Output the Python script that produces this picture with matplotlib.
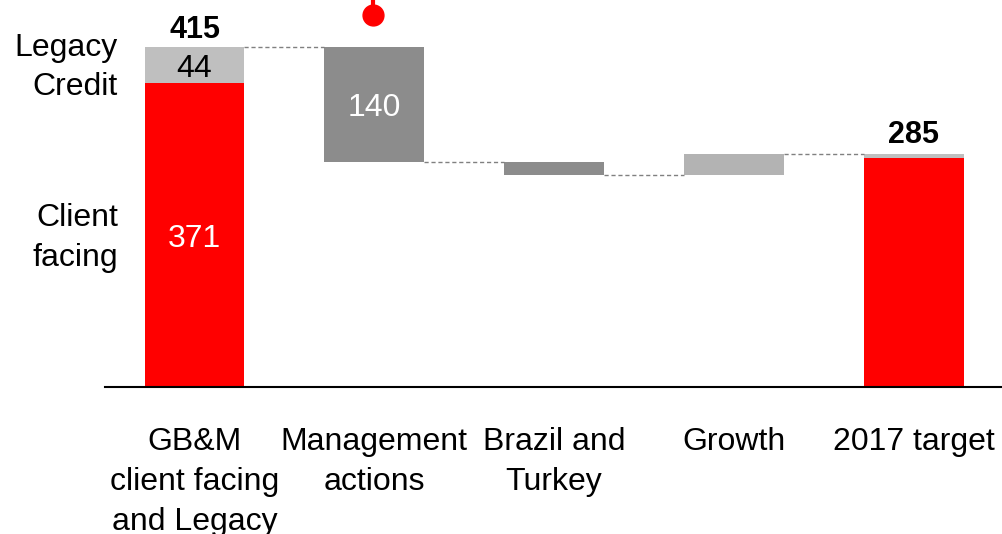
import matplotlib.pyplot as plt

plt.rcParams['font.family'] = ['Liberation Sans', 'DejaVu Sans']

# ---- data ----
categories = ["GB&M\nclient facing\nand Legacy", "Management\nactions", "Brazil and\nTurkey",
              "Growth", "2017 target"]
start_client = 371
start_legacy = 44
steps = [-140, -16, 26]            # management actions, Brazil and Turkey, growth
target_client = 280
target_legacy = 5
target_total = 285

RED = "#FF0000"
LEGACY_GREY = "#BFBFBF"
DARK_GREY = "#8C8C8C"
LIGHT_GREY = "#B3B3B3"
W = 0.556
FS = 23
LS = 1.43

fig = plt.figure(figsize=(10.02, 5.34), dpi=100)
ax = fig.add_axes([0, 0, 1, 1])
ax.set_xlim(-1.082, 4.492)
ax.set_ylim(-179.4, 472.4)
ax.axis('off')

# first column: client facing + legacy credit
start_total = start_client + start_legacy
ax.bar(0, start_client, W, color=RED)
ax.bar(0, start_legacy, W, bottom=start_client, color=LEGACY_GREY)
ax.text(0, start_client / 2, str(start_client), ha='center', va='center_baseline', color='white', fontsize=FS)
ax.text(0, start_client + start_legacy / 2, str(start_legacy), ha='center', va='center_baseline',
        color='black', fontsize=FS)
ax.text(0, start_total + 3, str(start_total), ha='center', va='bottom', fontweight='bold', fontsize=FS - 1)

# floating steps
level = start_total
step_colors = [DARK_GREY, DARK_GREY, LIGHT_GREY]
for i, (d, c) in enumerate(zip(steps, step_colors), start=1):
    ax.plot([i - 1 + W / 2, i - W / 2], [level, level], ls=(0, (3, 2)), color='#808080', lw=1)
    new = level + d
    ax.bar(i, abs(d), W, bottom=min(level, new), color=c)
    if abs(d) >= 100:
        ax.text(i, (level + new) / 2, str(abs(d)), ha='center', va='center_baseline', color='white', fontsize=FS)
    level = new
ax.plot([3 + W / 2, 4 - W / 2], [level, level], ls=(0, (3, 2)), color='#808080', lw=1)

# target column
ax.bar(4, target_client, W, color=RED)
ax.bar(4, target_legacy, W, bottom=target_client, color=LEGACY_GREY)
ax.text(4, target_total + 4, str(target_total), ha='center', va='bottom', fontweight='bold', fontsize=FS - 1)

# baseline
ax.plot([-0.498, 4.492], [0, 0], color='black', lw=1.5)

# side labels
ax.text(-0.425, 390, "Legacy\nCredit", ha='right', va='center', fontsize=FS, linespacing=1.38)
ax.text(-0.425, 182, "Client\nfacing", ha='right', va='center', fontsize=FS, linespacing=LS)

# category labels
for i, lab in enumerate(categories):
    ax.text(i, -49, lab, ha='center', va='top', fontsize=FS, linespacing=LS)

# marker above management actions
ax.plot([0.995, 0.995], [454, 480], color=RED, lw=3, clip_on=False)
ax.plot(0.995, 454, 'o', color=RED, ms=15)

fig.savefig("out.png", dpi=100)
